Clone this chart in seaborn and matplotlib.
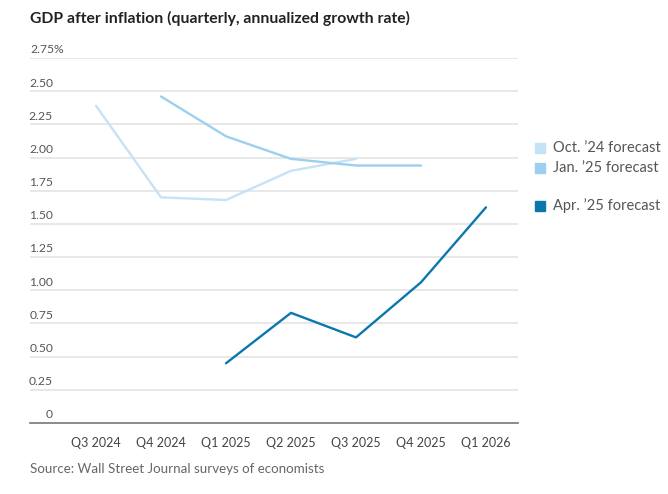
import numpy as np
import pandas as pd
import seaborn as sns
import matplotlib.pyplot as plt
from matplotlib.patches import Rectangle

# dati
quarters = ['Q3 2024', 'Q4 2024', 'Q1 2025', 'Q2 2025', 'Q3 2025', 'Q4 2025', 'Q1 2026']
oct24 = [2.39, 1.70, 1.68, 1.90, 1.99, np.nan, np.nan]
jan25 = [np.nan, 2.46, 2.16, 1.99, 1.94, 1.94, np.nan]
apr25 = [np.nan, np.nan, 0.45, 0.83, 0.645, 1.06, 1.625]
series_names = ["Oct. \u201924 forecast", "Jan. \u201925 forecast", "Apr. \u201925 forecast"]
colors = ['#c6e2f7', '#9dcff0', '#0a78ad']
y_ticks = [0, 0.25, 0.5, 0.75, 1.0, 1.25, 1.5, 1.75, 2.0, 2.25, 2.5, 2.75]

rows = []
for name, vals in zip(series_names, [oct24, jan25, apr25]):
    for i, v in enumerate(vals):
        if not np.isnan(v):
            rows.append({'pos': i, 'value': v, 'forecast': name})
df = pd.DataFrame(rows)

sns.set_style('white')
plt.rcParams['font.family'] = ['Lato', 'DejaVu Sans']

W, H = 668, 494
fig = plt.figure(figsize=(W / 100, H / 100), dpi=100)
ax = fig.add_axes([30 / W, 71 / H, 488 / W, 365 / H])

# griglia orizzontale
for t in y_ticks[1:]:
    ax.axhline(t, color='#e6e6e6', lw=1.3, zorder=0)

sns.lineplot(data=df, x='pos', y='value', hue='forecast', hue_order=series_names,
             palette=colors, lw=1.7, legend=False, ax=ax, zorder=3)

ax.set_xlim(-66 / 65, 422 / 65)
ax.set_ylim(0, 2.75)
for s in ['top', 'right', 'left']:
    ax.spines[s].set_visible(False)
ax.spines['bottom'].set_color('#777777')
ax.spines['bottom'].set_linewidth(1.2)
ax.set_yticks([])
ax.set_xticks(range(len(quarters)))
ax.set_xticklabels(quarters, fontsize=9, color='#444444')
ax.tick_params(axis='x', length=4, width=1, color='#777777', pad=6)
ax.set_xlabel('')
ax.set_ylabel('')

# etichette asse y sopra le linee
for t in y_ticks:
    lab = '0' if t == 0 else f'{t:.2f}'
    if t == 2.75:
        lab = '2.75%'
        ax.text(0.0, t + 0.02, lab, transform=ax.get_yaxis_transform(), ha='left', va='bottom',
                fontsize=8.7, color='#555555')
    else:
        ax.text(23 / 488, t + 0.02, lab, transform=ax.get_yaxis_transform(), ha='right', va='bottom',
                fontsize=8.7, color='#555555')

fig.text(30 / W, 1 - 18 / H, 'GDP after inflation (quarterly, annualized growth rate)',
         fontsize=11.3, fontweight='bold', color='#222222', va='center')
fig.text(30 / W, 1 - 469 / H, 'Source: Wall Street Journal surveys of economists',
         fontsize=9.6, color='#666666', va='center')

# legenda manuale
leg_y = [148, 168, 206]
for name, c, y in zip(series_names, colors, leg_y):
    fig.patches.append(Rectangle((535 / W, 1 - (y + 5) / H), 10 / W, 10 / H,
                                 transform=fig.transFigure, color=c))
    fig.text(553 / W, 1 - y / H, name, fontsize=10.5, color='#555555', va='center')

fig.savefig('out.png', dpi=100)
